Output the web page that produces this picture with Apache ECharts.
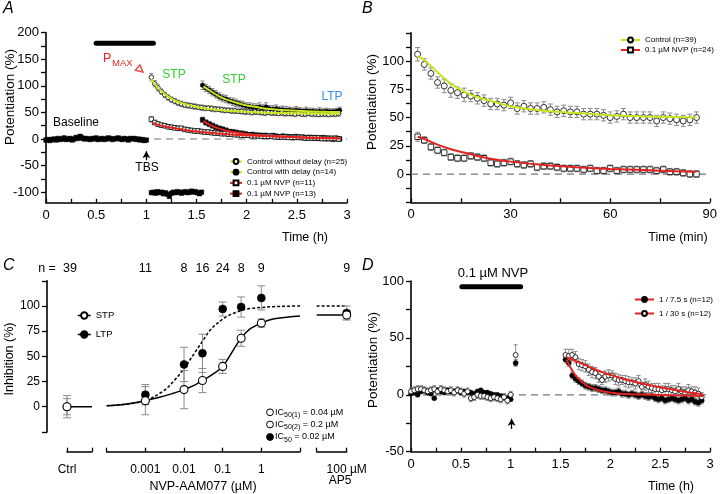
<!DOCTYPE html>
<html><head><meta charset="utf-8">
<script src="https://cdn.jsdelivr.net/npm/echarts@6/dist/echarts.min.js"></script>
<style>html,body{margin:0;padding:0;background:#fff}#c{width:720px;height:494px}</style>
</head><body><div id="c"></div>
<script>
// ---------------- DATA ----------------
// Panel A (time in h, potentiation %)
const A_yTicks = [-100,-75,-50,-25,0,25,50,75,100,125,150,175,200];
const A_yLabels = [-100,-50,0,50,100,150,200];
const A_baseT0 = 0, A_baseDt = 0.02;
const A_baseline = [-2,-1,-3,-1,0,-2,1,-1,0,2,-1,0,1,-2,0,3,1,5,2,0,1,0,-1,1,0,2,-1,0,1,-1,0,2,1,-1,0,1,2,0,-1,1,0,-2,1,0,1,-1,0,-2,-1,-3,-2];
const A_blockT0 = 1.05, A_blockDt = 0.02;
const A_block = [-101,-100,-102,-99,-101,-100,-103,-101,-104,-108,-102,-100,-101,-99,-100,-102,-100,-99,-101,-100,-98,-100,-99,-101,-103,-100];
const A_earlyT0 = 1.05, A_lateT0 = 1.56, A_dt = 1/30;
const A_ctrlNoDelay = [116,104,96,89,83,78,74,71,68,66,64,63,62,61,60,59,58,58,57,56,56,55,54,54,53,53,52,52,51,51,50,51,50,50,49,50,49,49,48,49,48,48,48,47,48,47,47,48,47,47,46,47,47,46,47,47,48];
const A_ctrlNoDelayErr = [7,6,6,5,5,5,5,5,5,5,5,5,5,5,4,5,5,4,5,5,4,5,5,4,5,5,4,5,5,4,5,5,4,5,5,4,5,5,4,5,5,4,5,5,4,5,5,4,5,5,4,5,5,4,5,5,5];
const A_ctrlDelay = [101,96,92,88,84,80,77,75,72,70,68,66,64,62,61,60,59,60,58,60,57,56,57,55,55,54,54,53,54,53,52,53,52,52,51,52,51,52,51,51,52,54];
const A_ctrlDelayErr = [8,7,7,7,7,7,7,7,6,7,7,6,7,6,7,7,7,8,7,8,6,7,7,6,7,7,6,6,7,6,6,7,6,6,6,7,6,6,6,6,6,6];
const A_nvpEarly = [37,31,28,26,25,23,22,21,20,20,18,17,16,15,15,14,13,13,12,11,11,10,10,9,9,8,8,7,7,7,6,6,6,5,5,5,5,4,4,4,4,3,3,3,3,3,2,2,2,2,2,1,1,1,1,1,0];
const A_nvpEarlyErr = [5,4,4,4,4,4,4,4,4,4,4,4,4,4,4,4,4,4,4,4,4,4,4,4,4,4,4,4,4,4,4,4,4,4,4,4,4,4,4,4,4,4,4,4,4,4,4,4,4,4,4,4,4,4,4,4,4];
const A_nvpLate = [36,31,28,25,22,20,18,16,14,13,12,11,10,9,8,8,7,7,6,6,5,6,5,4,5,4,4,3,4,3,3,2,3,2,2,1,2,1,1,0,1,0];
const A_nvpLateErr = [5,5,5,5,5,4,5,5,4,5,5,4,5,5,4,5,5,4,5,5,4,5,5,4,5,5,4,5,5,4,5,5,4,5,5,4,5,5,4,5,5,4];
const A_fitCtrlT = [1.05,1.1,1.15,1.2,1.25,1.3,1.4,1.5,1.6,1.7,1.8,1.9,2.0,2.2,2.4,2.6,2.8,2.93];
const A_fitCtrlV = [112,100,90,82,76,71,65,60,57,55,53,52,51,49.5,48.5,48,47.5,47.3];
const A_fitDelayT = [1.57,1.6,1.65,1.7,1.75,1.8,1.9,2.0,2.1,2.2,2.4,2.6,2.8,2.93];
const A_fitDelayV = [99,95,89,83,78,74,68,63,60,57,54,52,51,50.5];
const A_fitNvpEarlyT = [1.06,1.1,1.15,1.2,1.3,1.4,1.5,1.6,1.8,2.0,2.2,2.4,2.6,2.8,2.93];
const A_fitNvpEarlyV = [30,27.5,25,23,19.5,16.5,14,12,9,7,5.5,4,3,2,1.5];
const A_fitNvpLateT = [1.57,1.6,1.65,1.7,1.75,1.8,1.9,2.0,2.1,2.2,2.4,2.6,2.8,2.93];
const A_fitNvpLateV = [34,30,25,21,18,15.5,12,9.5,7.5,6,4,2.5,1.5,1];
const A_drugBar = [0.5, 1.07], A_drugBarY = 180;

// Panel B (time in min)
const B_t0 = 2, B_dt = 2;
const B_ctrl = [106,97,89,81,78,74,72,70,69,67,65,62,62,61,63,58,60,58,58,59,57,55,56,55,55,53,53,53,52,50,51,53,50,50,50,50,47,50,49,48,47,48,50];
const B_ctrlErr = [6,5,5,5,6,6,5,6,5,5,5,5,5,5,5,5,5,5,5,5,5,5,5,5,5,5,5,5,5,5,5,5,5,5,5,5,5,5,5,5,5,5,5];
const B_nvp = [33,30,24,21,19,15,14,14,16,15,14,10,9,10,11,9,8,9,6,7,7,6,5,5,5,4,5,3,3,5,3,4,4,4,4,4,3,4,2,2,1,0,0];
const B_nvpErr = [4,3,3,3,3,3,3,3,3,3,3,3,3,3,3,3,3,3,3,3,3,3,3,3,3,3,3,3,3,3,3,3,3,3,3,3,3,3,3,3,3,3,3];
const B_fitT = [2,4,8,12,16,20,25,30,40,50,60,70,80,86];
const B_fitCtrl = [104,101,90,80,73,68,64,60,56,54,52,51,50.5,50];
const B_fitNvp = [33,31,26,22,19,16,13,11,8,6,4.5,3.5,2.5,2];

// Panel C (concentration in µM, inhibition %)
const C_conc = [0.001,0.01,0.03,0.1,0.3,1];
const C_n = [11,8,16,24,8,9];
const C_stp = [6,17,26,40,68,83];
const C_stpErr = [14,19,12,7,8,4];
const C_ltp = [12,42,53,97,99,108];
const C_ltpErr = [10,17,19,7,10,12];
const C_ctrl = {n:39, stp:0, stpErr:11, ltp:0, ltpErr:8};
const C_ap5 = {n:9, stp:91, stpErr:4, ltp:93, ltpErr:7, fitStp:91, fitLtp:100};
const C_fitConc = [0.0001,0.0003,0.001,0.003,0.005,0.01,0.02,0.03,0.05,0.1,0.15,0.2,0.3,0.5,1,2,5,10];
const C_fitStp = [1,2.5,6,10.5,13,17,22,26,31,40,50,58,68,77,83,87,89,90];
const C_fitLtp = [1,2.5,6,16,24,38,55,65,77,87,91,93,95.5,97.5,98.5,99.3,99.8,100];
const C_tickLabels = {0.001:'0.001', 0.01:'0.01', 0.1:'0.1', 1:'1'};

// Panel D (time in h)
const D_baseT0 = 0, D_dt = 1/30, D_postT0 = 1.55, D_tbsT = 1.05;
const D_openBase = [3,4,5,5,4,3,4,5,3,5,4,3,4,2,4,3,1,3,-3,-2,0,-1,-1,-2,-3,-2,-3,-4,-2,-5,0];
const D_filledBase = [1,2,0,3,4,2,1,-3,4,3,2,4,3,3,4,2,3,2,2,1,3,4,2,2,1,0,0,-1,-2,-3,-4];
const D_openTbs = 35, D_openTbsErr = 9, D_filledTbs = 28, D_filledTbsErr = 3;
const D_openPost = [35,34,35,33,27,26,25,22,20,19,16,13,16,17,17,14,13,13,12,11,11,10,12,7,9,7,6,5,5,4,5,5,4,3,5,3,2,4,3,2,1,-2];
const D_filledPost = [31,28,17,14,12,10,8,7,6,6,5,4,4,3,2,2,3,1,1,0,1,0,-1,0,-1,-2,-1,-3,-4,-3,-5,-4,-3,-4,-5,-4,-3,-5,-4,-6,-7,-5];
const D_openErr = [5,6,5,5,5,5,5,5,5,5,5,4,5,5,4,5,5,4,5,5,4,5,5,4,5,5,4,5,5,4,5,5,4,5,5,4,5,5,4,5,5,4];
const D_filledErr = [3,3,3,3,3,3,3,3,3,3,3,3,3,3,3,3,3,3,3,3,3,3,3,3,3,3,3,3,3,3,3,3,3,3,3,3,3,3,3,3,3,3];
const D_baseErr = 3;
const D_fitOpenT = [1.56,1.7,1.8,1.9,2.0,2.1,2.2,2.3,2.4,2.5,2.6,2.7,2.8,2.93];
const D_fitOpenV = [33,28,24,20.5,17.5,14.8,12.4,10.3,8.4,6.6,5,3.5,2,0.3];
const D_fitFilledT = [1.56,1.6,1.65,1.7,1.75,1.8,1.9,2.0,2.1,2.2,2.4,2.6,2.93];
const D_fitFilledV = [31,24,17,12.5,9,6.5,3.5,2,1,0.5,0,-0.5,-1];
const D_drugBar = [0.51, 1.1], D_drugBarY = 95;

// ---------------- CHART ----------------
const FONT = '"Liberation Sans", Arial, Helvetica, sans-serif';
const YG = '#c8e41e', RED = '#e2231f', ERRC = '#8c8c8c';
const chart = echarts.init(document.getElementById('c'), null, {renderer: 'canvas'});

const seq = (t0, dt, vals) => vals.map((v, i) => [t0 + i * dt, v]);
const seqErr = (t0, dt, vals, e) => vals.map((v, i) => [t0 + i * dt, v - e[i], v + e[i]]);
const zip = (xs, ys) => xs.map((x, i) => [x, ys[i]]);

function markers(name, xi, yi, data, sym, size, filled, z, bw) {
  return {name, type: 'line', xAxisIndex: xi, yAxisIndex: yi, data, symbol: sym, symbolSize: size,
    showSymbol: true, showAllSymbol: true, clip: false, animation: false,
    lineStyle: {opacity: 0, width: 1}, emphasis: {disabled: true}, silent: true,
    itemStyle: filled ? {color: '#000', borderColor: '#000', borderWidth: 0.5} : {color: '#fff', borderColor: '#000', borderWidth: bw || 0.8},
    z: z || 3};
}
function fitLine(xi, yi, data, color, width, type, z) {
  return {type: 'line', xAxisIndex: xi, yAxisIndex: yi, data, symbol: 'none', smooth: 0.35, clip: false,
    silent: true, animation: false, lineStyle: {color, width, type: type || 'solid'}, z: z || 4};
}
function errBars(xi, yi, data, cap, z) {
  return {type: 'custom', xAxisIndex: xi, yAxisIndex: yi, data, silent: true, animation: false, clip: false, z: z || 1,
    encode: {x: 0, y: [1, 2]},
    renderItem(params, api) {
      const x = api.value(0), lo = api.value(1), hi = api.value(2);
      const a = api.coord([x, lo]), b = api.coord([x, hi]);
      const st = {stroke: ERRC, lineWidth: 1};
      return {type: 'group', children: [
        {type: 'line', shape: {x1: a[0], y1: a[1], x2: b[0], y2: b[1]}, style: st},
        {type: 'line', shape: {x1: a[0] - cap, y1: a[1], x2: a[0] + cap, y2: a[1]}, style: st},
        {type: 'line', shape: {x1: b[0] - cap, y1: b[1], x2: b[0] + cap, y2: b[1]}, style: st}
      ]};
    }};
}
function xAxisV(gi, min, max, interval, labelFn, extra) {
  return Object.assign({type: 'value', gridIndex: gi, min, max, interval,
    axisLine: {show: true, onZero: false, lineStyle: {color: '#000', width: 1.6}},
    axisTick: {show: true, inside: true, length: 4, lineStyle: {color: '#000', width: 1.3}},
    splitLine: {show: false},
    axisLabel: {color: '#000', fontFamily: FONT, fontSize: 13, margin: 6, formatter: labelFn}}, extra || {});
}
function yAxisV(gi, min, max, interval, labelFn, extra) {
  return Object.assign({type: 'value', gridIndex: gi, min, max, interval,
    axisLine: {show: true, onZero: false, lineStyle: {color: '#000', width: 1.6}},
    axisTick: {show: true, inside: false, length: 5, lineStyle: {color: '#000', width: 1.3}},
    splitLine: {show: false},
    axisLabel: {color: '#000', fontFamily: FONT, fontSize: 13, margin: 7, formatter: labelFn}}, extra || {});
}
const every = step => v => { const k = v / step; return Math.abs(k - Math.round(k)) < 1e-6 ? String(+v.toFixed(3)) : ''; };
const between = (step, lo, hi) => v => (v < lo - 1e-6 || v > hi + 1e-6) ? '' : every(step)(v);

function T(x, y, text, o) {
  o = o || {};
  return {type: 'text', x, y, rotation: o.rot || 0, silent: true, z: 10,
    style: {text, fill: o.color || '#000', font: (o.italic ? 'italic ' : '') + (o.size || 12.5) + 'px ' + FONT,
      align: o.align || 'center', verticalAlign: o.va || 'middle', rich: o.rich}};
}
const legTxt = {fontFamily: FONT, fontSize: 8, color: '#000', lineHeight: 10};

const option = {
  animation: false,
  backgroundColor: '#fff',
  grid: [
    {left: 46, top: 32.6, width: 301, height: 170.2},
    {left: 411, top: 32.8, width: 301, height: 169.5},
    {left: 67, top: 280.8, width: 25, height: 151.1},
    {left: 106.7, top: 280.8, width: 193.3, height: 151.1},
    {left: 316.7, top: 280.8, width: 30, height: 151.1},
    {left: 411, top: 281, width: 299, height: 170.7}
  ],
  xAxis: [
    xAxisV(0, 0, 3, 0.25, every(0.5)),
    xAxisV(1, 0, 90, 15, every(30)),
    xAxisV(2, 0, 1, 1, null, {offset: 19.8, axisLabel: {color: '#000', fontFamily: FONT, fontSize: 12, margin: 12, formatter: v => v === 0 ? 'Ctrl' : ''}}),
    {type: 'log', logBase: 10, gridIndex: 3, min: 0.0001, max: 10, offset: 19.8,
      axisLine: {show: true, onZero: false, lineStyle: {color: '#000', width: 1.6}},
      axisTick: {show: true, inside: true, length: 4, lineStyle: {color: '#000', width: 1.3}},
      minorTick: {show: false}, splitLine: {show: false},
      axisLabel: {color: '#000', fontFamily: FONT, fontSize: 12, margin: 12,
        formatter: v => { for (const k in C_tickLabels) { if (Math.abs(Math.log10(v) - Math.log10(+k)) < 1e-6) return C_tickLabels[k]; } return ''; }}},
    xAxisV(4, 0, 1, 1, null, {offset: 19.8, axisLabel: {color: '#000', fontFamily: FONT, fontSize: 12, margin: 12, formatter: v => v === 1 ? '100 µM' : ''}}),
    xAxisV(5, 0, 3, 0.25, every(0.5))
  ],
  yAxis: [
    yAxisV(0, -120, 200, null, v => String(v), {axisTick: {show: true, inside: false, length: 5, customValues: A_yTicks, lineStyle: {color: '#000', width: 1.3}},
      axisLabel: {color: '#000', fontFamily: FONT, fontSize: 13, margin: 7, customValues: A_yLabels}}),
    yAxisV(1, -25, 125, 12.5, between(25, 0, 100)),
    yAxisV(2, -25, 125, 25, between(25, 0, 100), {offset: 20, axisLabel: {color: '#000', fontFamily: FONT, fontSize: 12, margin: 7, formatter: between(25, 0, 100)}}),
    {type: 'value', gridIndex: 3, min: -25, max: 125, show: false},
    {type: 'value', gridIndex: 4, min: -25, max: 125, show: false},
    yAxisV(5, -50, 100, 25, every(50))
  ],
  legend: [
    {orient: 'vertical', left: 224, top: 151.5, itemWidth: 12, itemHeight: 6, itemGap: 0.7, selectedMode: false,
      textStyle: legTxt,
      data: [
        {name: 'Control without delay (n=25)', lineStyle: {opacity: 1, color: YG, width: 2}},
        {name: 'Control with delay (n=14)', lineStyle: {opacity: 1, color: YG, width: 2}},
        {name: '0.1 µM NVP (n=11)', lineStyle: {opacity: 1, color: RED, width: 2}},
        {name: '0.1 µM NVP (n=13)', lineStyle: {opacity: 1, color: RED, width: 2}}
      ]},
    {orient: 'vertical', left: 615, top: 30, itemWidth: 19, itemHeight: 6, itemGap: 0, selectedMode: false,
      textStyle: legTxt,
      data: [
        {name: 'Control (n=39)', lineStyle: {opacity: 1, color: YG, width: 2}},
        {name: '0.1 µM NVP (n=24)', lineStyle: {opacity: 1, color: RED, width: 2}}
      ]},
    {orient: 'vertical', left: 72, top: 305, itemWidth: 13, itemHeight: 8, itemGap: 8, selectedMode: false,
      textStyle: {fontFamily: FONT, fontSize: 9.5, color: '#000', lineHeight: 11},
      data: [
        {name: 'STP', lineStyle: {opacity: 1, color: '#000', width: 1.5}},
        {name: 'LTP', lineStyle: {opacity: 1, color: '#000', width: 1.5}}
      ]},
    {orient: 'vertical', left: 629, top: 289.5, itemWidth: 19, itemHeight: 6, itemGap: 4, selectedMode: false,
      textStyle: legTxt,
      data: [
        {name: '1 / 7.5 s (n=12)', lineStyle: {opacity: 1, color: RED, width: 2}},
        {name: '1 / 30 s (n=12)', lineStyle: {opacity: 1, color: RED, width: 2}}
      ]}
  ],
  series: [
    // ---- Panel A ----
    {type: 'line', xAxisIndex: 0, yAxisIndex: 0, data: [[0, 0], [3, 0]], symbol: 'none', silent: true, z: 0,
      lineStyle: {color: '#777', width: 1.2, type: [7, 5]},
      markLine: {silent: true, symbol: ['none', 'arrow'], symbolSize: [6, 7], label: {show: false},
        lineStyle: {color: '#000', width: 1.3, type: 'solid'}, data: [[{coord: [1, -40]}, {coord: [1, -23]}]]}},
    {type: 'line', xAxisIndex: 0, yAxisIndex: 0, data: A_drugBar.map(t => [t, A_drugBarY]), symbol: 'none', silent: true,
      lineStyle: {color: '#000', width: 5, cap: 'round'}},
    {type: 'scatter', xAxisIndex: 0, yAxisIndex: 0, data: [[0.94, 130]], symbol: 'triangle', symbolSize: 7, symbolRotate: -130, silent: true,
      itemStyle: {color: '#fff', borderColor: RED, borderWidth: 1.5}},
    errBars(0, 0, seqErr(A_earlyT0, A_dt, A_ctrlNoDelay, A_ctrlNoDelayErr), 2),
    errBars(0, 0, seqErr(A_lateT0, A_dt, A_ctrlDelay, A_ctrlDelayErr), 2),
    errBars(0, 0, seqErr(A_earlyT0, A_dt, A_nvpEarly, A_nvpEarlyErr), 2),
    errBars(0, 0, seqErr(A_lateT0, A_dt, A_nvpLate, A_nvpLateErr), 2),
    markers('0.1 µM NVP (n=13)', 0, 0, seq(A_baseT0, A_baseDt, A_baseline).concat(seq(A_blockT0, A_blockDt, A_block), seq(A_lateT0, A_dt, A_nvpLate)), 'rect', 4.5, true),
    markers('0.1 µM NVP (n=11)', 0, 0, seq(A_earlyT0, A_dt, A_nvpEarly), 'rect', 4.5, false),
    markers('Control with delay (n=14)', 0, 0, seq(A_lateT0, A_dt, A_ctrlDelay), 'circle', 4.5, true),
    markers('Control without delay (n=25)', 0, 0, seq(A_earlyT0, A_dt, A_ctrlNoDelay), 'circle', 4.5, false),
    fitLine(0, 0, zip(A_fitCtrlT, A_fitCtrlV), YG, 2),
    fitLine(0, 0, zip(A_fitDelayT, A_fitDelayV), YG, 2),
    fitLine(0, 0, zip(A_fitNvpEarlyT, A_fitNvpEarlyV), RED, 2),
    fitLine(0, 0, zip(A_fitNvpLateT, A_fitNvpLateV), RED, 2),
    // ---- Panel B ----
    {type: 'line', xAxisIndex: 1, yAxisIndex: 1, data: [[0, 0], [90, 0]], symbol: 'none', silent: true, z: 0,
      lineStyle: {color: '#777', width: 1.2, type: [7, 5]}},
    errBars(1, 1, seqErr(B_t0, B_dt, B_ctrl, B_ctrlErr), 2.5),
    errBars(1, 1, seqErr(B_t0, B_dt, B_nvp, B_nvpErr), 2.5),
    markers('Control (n=39)', 1, 1, seq(B_t0, B_dt, B_ctrl), 'circle', 6, false),
    markers('0.1 µM NVP (n=24)', 1, 1, seq(B_t0, B_dt, B_nvp), 'rect', 5.5, false),
    fitLine(1, 1, zip(B_fitT, B_fitCtrl), YG, 2),
    fitLine(1, 1, zip(B_fitT, B_fitNvp), RED, 2),
    // ---- Panel C ----
    fitLine(2, 2, [[0, 0], [1, 0]], '#000', 1.5, 'solid', 1),
    fitLine(3, 3, zip(C_fitConc, C_fitStp), '#000', 1.5, 'solid', 1),
    fitLine(3, 3, zip(C_fitConc, C_fitLtp), '#000', 1.5, [3, 2], 1),
    fitLine(4, 4, [[0, C_ap5.fitStp], [1, C_ap5.fitStp]], '#000', 1.5, 'solid', 1),
    fitLine(4, 4, [[0, C_ap5.fitLtp], [1, C_ap5.fitLtp]], '#000', 1.5, [3, 2], 1),
    errBars(2, 2, [[0, C_ctrl.ltp - C_ctrl.ltpErr, C_ctrl.ltp + C_ctrl.ltpErr], [0, C_ctrl.stp - C_ctrl.stpErr, C_ctrl.stp + C_ctrl.stpErr]], 4, 2),
    errBars(3, 3, C_conc.map((c, i) => [c, C_ltp[i] - C_ltpErr[i], C_ltp[i] + C_ltpErr[i]]), 4, 2),
    errBars(3, 3, C_conc.map((c, i) => [c, C_stp[i] - C_stpErr[i], C_stp[i] + C_stpErr[i]]), 4, 2),
    errBars(4, 4, [[1, C_ap5.ltp - C_ap5.ltpErr, C_ap5.ltp + C_ap5.ltpErr], [1, C_ap5.stp - C_ap5.stpErr, C_ap5.stp + C_ap5.stpErr]], 4, 2),
    markers('LTP', 3, 3, C_conc.map((c, i) => [c, C_ltp[i]]), 'circle', 8, true),
    markers('STP', 3, 3, C_conc.map((c, i) => [c, C_stp[i]]), 'circle', 8, false, 3, 1.1),
    markers('LTP', 2, 2, [[0, C_ctrl.ltp]], 'circle', 8, true),
    markers('STP', 2, 2, [[0, C_ctrl.stp]], 'circle', 8, false, 3, 1.1),
    markers('LTP', 4, 4, [[1, C_ap5.ltp]], 'circle', 8, true),
    markers('STP', 4, 4, [[1, C_ap5.stp]], 'circle', 8, false, 3, 1.1),
    // ---- Panel D ----
    {type: 'line', xAxisIndex: 5, yAxisIndex: 5, data: [[0, 0], [3, 0]], symbol: 'none', silent: true, z: 0,
      lineStyle: {color: '#777', width: 1.2, type: [7, 5]},
      markLine: {silent: true, symbol: ['none', 'arrow'], symbolSize: [6, 7], label: {show: false},
        lineStyle: {color: '#000', width: 1.3, type: 'solid'}, data: [[{coord: [1.01, -30]}, {coord: [1.01, -21]}]]}},
    {type: 'line', xAxisIndex: 5, yAxisIndex: 5, data: D_drugBar.map(t => [t, D_drugBarY]), symbol: 'none', silent: true,
      lineStyle: {color: '#000', width: 5, cap: 'round'}},
    errBars(5, 5, D_openBase.map((v, i) => [D_baseT0 + i * D_dt, v - D_baseErr, v + D_baseErr]), 2),
    errBars(5, 5, [[D_tbsT, D_openTbs - D_openTbsErr, D_openTbs + D_openTbsErr], [D_tbsT, D_filledTbs - D_filledTbsErr, D_filledTbs + D_filledTbsErr]], 2),
    errBars(5, 5, seqErr(D_postT0, D_dt, D_openPost, D_openErr), 2),
    errBars(5, 5, seqErr(D_postT0, D_dt, D_filledPost, D_filledErr), 2),
    markers('1 / 7.5 s (n=12)', 5, 5, seq(D_baseT0, D_dt, D_filledBase).concat([[D_tbsT, D_filledTbs]], seq(D_postT0, D_dt, D_filledPost)), 'circle', 5, true),
    markers('1 / 30 s (n=12)', 5, 5, seq(D_baseT0, D_dt, D_openBase).concat([[D_tbsT, D_openTbs]], seq(D_postT0, D_dt, D_openPost)), 'circle', 5, false),
    fitLine(5, 5, zip(D_fitOpenT, D_fitOpenV), RED, 2),
    fitLine(5, 5, zip(D_fitFilledT, D_fitFilledV), RED, 2)
  ]
};
chart.setOption(option);

// ---------------- TEXT ----------------
const g = [
  T(3, 9, 'A', {italic: true, size: 16, align: 'left'}),
  T(362, 9, 'B', {italic: true, size: 16, align: 'left'}),
  T(3, 266, 'C', {italic: true, size: 16, align: 'left'}),
  T(362, 266, 'D', {italic: true, size: 16, align: 'left'}),
  T(10, 97, 'Potentiation (%)', {rot: Math.PI / 2, size: 13.5}),
  T(372, 102, 'Potentiation (%)', {rot: Math.PI / 2, size: 13.5}),
  T(10, 359, 'Inhibition (%)', {rot: Math.PI / 2, size: 12.5}),
  T(373, 360, 'Potentiation (%)', {rot: Math.PI / 2, size: 13.5}),
  T(305, 238, 'Time (h)', {size: 12.5}),
  T(678, 238, 'Time (min)', {size: 12.5}),
  T(671, 487, 'Time (h)', {size: 12.5}),
  T(203, 487, 'NVP-AAM077 (µM)', {size: 12.5}),
  T(340, 481, 'AP5', {size: 12}),
  T(103, 59, 'P', {color: RED, size: 12.5, align: 'left'}),
  T(112, 63, 'MAX', {color: RED, size: 9.5, align: 'left'}),
  T(174, 75, 'STP', {color: '#2fd02f', size: 12}),
  T(234, 80, 'STP', {color: '#2fd02f', size: 12}),
  T(332, 97, 'LTP', {color: '#3a8ee8', size: 12}),
  T(76, 123, 'Baseline', {size: 12}),
  T(147, 168, 'TBS', {size: 12}),
  T(493, 273, '0.1 µM NVP', {size: 13}),
  T(47, 269, 'n =', {size: 12.5})
];
// IC50 key
const icRows = [[412.3, false, '50(1)', ' = 0.04 µM'], [424.5, false, '50(2)', ' = 0.2 µM'], [437, true, '50', ' = 0.02 µM']];
icRows.forEach(r => {
  g.push({type: 'circle', shape: {cx: 270, cy: r[0], r: 3.4}, silent: true, z: 10,
    style: {fill: r[1] ? '#000' : '#fff', stroke: '#000', lineWidth: 1}});
  g.push(T(275, r[0] - 4.5, '{a|IC}{s|' + r[2] + '}{a|' + r[3] + '}', {align: 'left', va: 'top', size: 9,
    rich: {a: {fontSize: 9, fontFamily: FONT, verticalAlign: 'top', lineHeight: 10, fill: '#000'},
           s: {fontSize: 7, fontFamily: FONT, verticalAlign: 'top', lineHeight: 8, padding: [4, 0, 0, 0], fill: '#000'}}}));
});
// n labels positioned through the axes
const nY = 269;
g.push(T(chart.convertToPixel({xAxisIndex: 2}, 0) + 3, nY, String(C_ctrl.n), {size: 12.5}));
C_conc.forEach((c, i) => g.push(T(chart.convertToPixel({xAxisIndex: 3}, c), nY, String(C_n[i]), {size: 12.5})));
g.push(T(chart.convertToPixel({xAxisIndex: 4}, 1), nY, String(C_ap5.n), {size: 12.5}));
chart.setOption({graphic: g});
</script></body></html>
